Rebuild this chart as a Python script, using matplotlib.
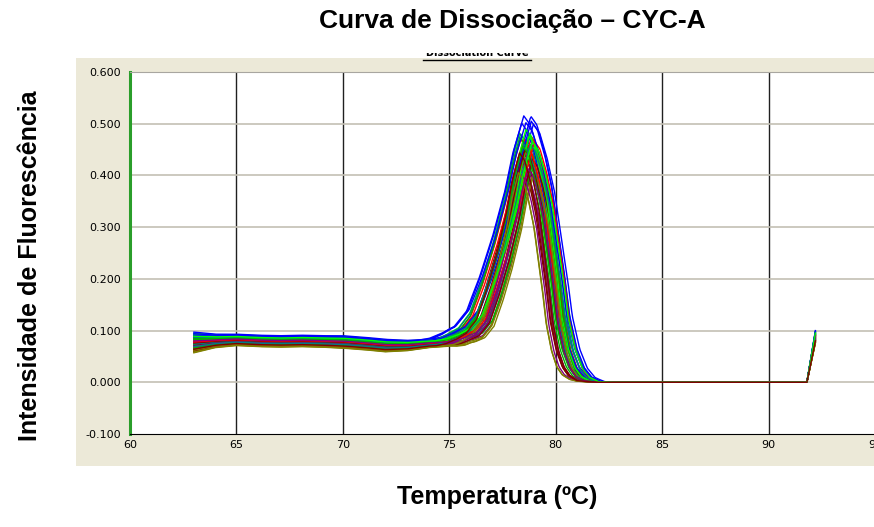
import numpy as np
import matplotlib.pyplot as plt
from matplotlib.patches import Rectangle
from matplotlib.lines import Line2D
from matplotlib.transforms import Bbox, TransformedBbox

# baseline drift shared by the wells, incl. the end uptick
base_temps = [63.0, 64.0, 65.0, 66.0, 67.0, 68.0, 69.0, 70.0, 71.0, 72.0, 73.0, 74.0, 75.0,
              76.0, 77.0, 78.0, 79.0, 80.0, 81.0, 82.0, 91.8, 92.2]
base_vals = [0.077, 0.080, 0.082, 0.080, 0.079, 0.080, 0.079, 0.078, 0.075, 0.071, 0.071, 0.075, 0.077,
             0.075, 0.065, 0.050, 0.030, 0.012, 0.003, 0.0, 0.0, 0.088]
# half-width of the spread between wells along the baseline
base_spread = [0.020, 0.013, 0.011, 0.011, 0.011, 0.011, 0.011, 0.012, 0.012, 0.012, 0.010, 0.008, 0.007,
               0.006, 0.005, 0.004, 0.003, 0.002, 0.001, 0.0, 0.0, 0.012]

# melt peak of the median well, above the baseline
peak_temps = [74.5, 75.0, 75.5, 76.0, 76.5, 77.0, 77.5, 78.0, 78.3, 78.65, 78.9, 79.2,
              79.5, 79.8, 80.0, 80.2, 80.5, 80.8, 81.1, 81.5, 82.0]
peak_vals = [0.0, 0.003, 0.012, 0.025, 0.055, 0.12, 0.197, 0.29, 0.361, 0.423, 0.413, 0.374,
             0.32, 0.235, 0.178, 0.111, 0.055, 0.023, 0.008, 0.001, 0.0]
peak_center = 78.65

# per well: peak shift (degC), peak width factor, peak height factor, baseline position
well_shift = [0.15, -0.25, 0.30, -0.05, -0.10, 0.20, -0.35, 0.05,
              -0.30, 0.25, -0.15, 0.35, 0.00, -0.20, 0.10, -0.40,
              0.20, -0.10, 0.18, -0.30, 0.25, -0.05, 0.30, -0.20,
              -0.15, 0.35, -0.25, 0.10, -0.35, 0.15, -0.05, 0.25,
              0.00, -0.30, 0.20, -0.15, 0.30, -0.25, 0.10, -0.10,
              0.35, -0.20, -0.05, 0.15, -0.40, 0.05, 0.25, -0.35]
well_width = [1.02, 0.98, 1.18, 1.06, 0.84, 0.86, 1.08, 0.92,
              1.08, 0.95, 1.22, 1.00, 0.80, 0.90, 1.02, 0.96,
              1.00, 1.04, 1.15, 1.10, 0.88, 0.84, 1.12, 0.90,
              1.12, 0.92, 1.20, 0.98, 0.82, 0.88, 1.05, 0.94,
              0.96, 1.10, 1.16, 1.04, 0.86, 0.82, 1.00, 0.98,
              1.05, 1.00, 1.24, 1.08, 0.84, 0.92, 1.10, 0.94]
well_amp = [1.00, 0.97, 1.10, 1.02, 0.85, 0.88, 1.03, 0.94,
            1.01, 0.99, 1.12, 0.98, 0.83, 0.90, 1.05, 0.93,
            1.04, 1.00, 1.13, 1.03, 0.87, 0.86, 1.01, 0.96,
            1.02, 0.96, 1.08, 1.04, 0.84, 0.91, 1.06, 0.95,
            0.99, 1.02, 1.11, 0.99, 0.88, 0.85, 1.04, 0.97,
            1.03, 0.98, 1.09, 1.01, 0.86, 0.89, 1.02, 0.95]
well_off = [0.30, -0.40, 0.80, 0.10, -0.90, -0.20, 0.50, -0.60,
            -0.10, 0.60, 0.40, -0.50, -1.00, 0.20, 0.90, -0.70,
            0.45, -0.20, 1.00, 0.30, -0.60, 0.00, 0.65, -0.30,
            -0.45, 0.35, 0.55, -0.15, -0.85, 0.10, 0.75, -0.80,
            0.15, -0.55, 0.70, 0.50, -0.75, -0.35, 0.25, -0.05,
            0.05, 0.30, 0.85, -0.40, -0.95, 0.15, 0.60, -0.65]

well_colors = ["#ff0000", "#00b000", "#0000ff", "#008080",
               "#808000", "#800080", "#00ff00", "#800000"]

x_ticks = [60, 65, 70, 75, 80, 85, 90, 95]
y_ticks = [-0.1, 0.0, 0.1, 0.2, 0.3, 0.4, 0.5, 0.6]

W, H = 874, 527
fig = plt.figure(figsize=(W / 100, H / 100), dpi=100)

# beige instrument panel behind the plot
fig.add_artist(Rectangle((76 / W, 1 - 466 / H), 1, (466 - 58) / H,
                         transform=fig.transFigure, facecolor="#ece9d8",
                         edgecolor="none", zorder=-1))

# "Dissociation Curve" caption of the instrument software, mostly cut away
cap = fig.text(477 / W, 1 - 58 / H, "Dissociation Curve", ha="center", va="bottom",
               fontsize=7, fontweight="bold")
cap.set_clip_box(TransformedBbox(Bbox([[0, 1 - 58 / H], [1, 1 - 53 / H]]), fig.transFigure))
cap.set_clip_on(True)
fig.add_artist(Line2D([423 / W, 531 / W], [1 - 60 / H, 1 - 60 / H],
                      transform=fig.transFigure, color="black", lw=1))

ax = fig.add_axes([130 / W, 1 - 434 / H, 745 / W, 362 / H])
ax.set_xlim(60, 95)
ax.set_ylim(-0.1, 0.6)

for v in x_ticks[1:-1]:
    ax.axvline(v, color="#202020", lw=1, zorder=1)
for v in y_ticks[1:-1]:
    ax.axhline(v, color="#c4c0b4", lw=1.2, zorder=1)

T = np.linspace(63.0, 92.2, 585)
base = np.interp(T, base_temps, base_vals)
spread = np.interp(T, base_temps, base_spread)
for i in range(len(well_shift)):
    tt = (T - peak_center - well_shift[i]) / well_width[i] + peak_center
    y = base + well_off[i] * spread + well_amp[i] * np.interp(tt, peak_temps, peak_vals)
    ax.plot(T, y, color=well_colors[i % len(well_colors)], lw=1.0, zorder=2)

ax.set_xticks(x_ticks)
ax.set_xticklabels([str(v) for v in x_ticks])
ax.set_yticks(y_ticks)
ax.set_yticklabels([f"{v:.3f}" for v in y_ticks])
ax.tick_params(axis="both", length=0, labelsize=8)
ax.tick_params(axis="y", pad=6.5)
ax.tick_params(axis="x", pad=4)

ax.spines["top"].set_color("#a8a6a0")
ax.spines["bottom"].set_color("black")
ax.spines["left"].set_color("#2a9e2a")
ax.spines["left"].set_linewidth(2.2)
ax.spines["right"].set_visible(False)

bold = ["Liberation Sans", "DejaVu Sans"]
fig.text(512 / W, 1 - 21 / H, "Curva de Dissociação – CYC-A", ha="center", va="center",
         fontsize=19, fontweight="bold", family=bold)
fig.text(30 / W, 1 - 266 / H, "Intensidade de Fluorescência", rotation=90,
         ha="center", va="center", fontsize=18, fontweight="bold", family=bold)
fig.text(497 / W, 1 - 497 / H, "Temperatura (ºC)", ha="center", va="center",
         fontsize=18, fontweight="bold", family=bold)

fig.savefig("out.png", dpi=100)
